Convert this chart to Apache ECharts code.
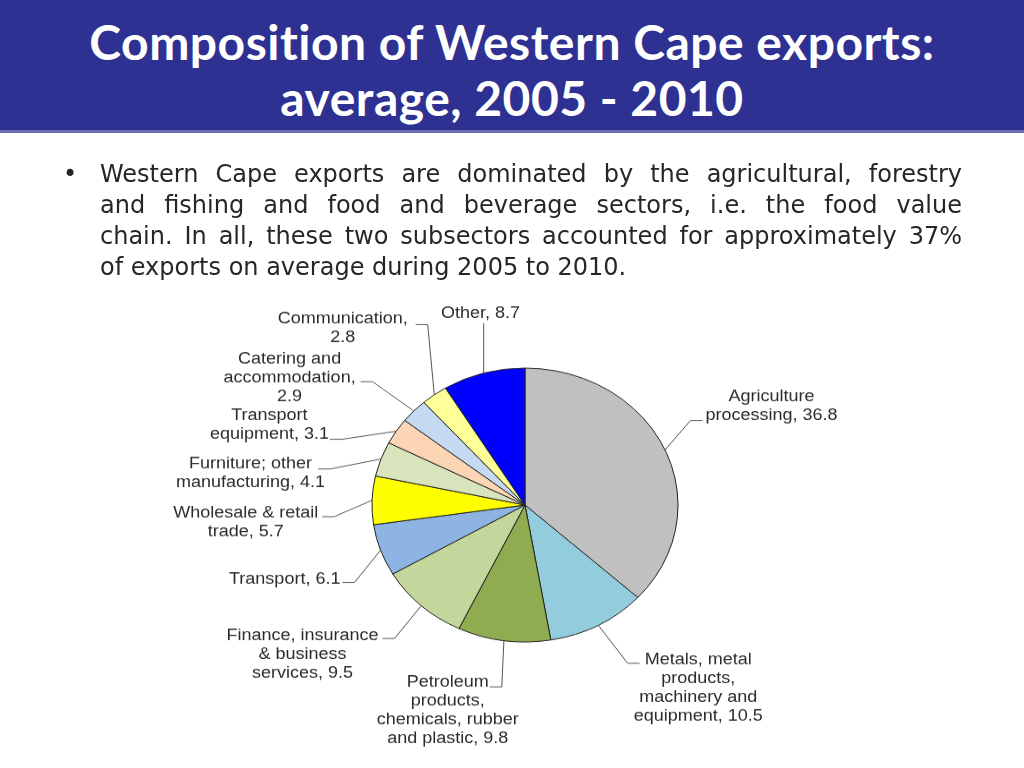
<!DOCTYPE html>
<html>
<head>
<meta charset="utf-8">
<script src="https://cdn.jsdelivr.net/npm/echarts@6/dist/echarts.min.js"></script>
<style>
  html, body { margin: 0; padding: 0; background: #fff; }
  body { width: 1024px; height: 768px; position: relative; overflow: hidden; }
  #header {
    position: absolute; left: 0; top: 0; width: 1024px; height: 133px;
    background: #2e3192; border-bottom: 3px solid #6a6db4;
    color: #fff; text-align: center;
    font-family: Lato, "DejaVu Sans", sans-serif; font-weight: bold;
    font-size: 48px; letter-spacing: 0.5px; line-height: 56px; padding-top: 14px; box-sizing: border-box;
  }
  #bullet {
    position: absolute; left: 100px; top: 159px; width: 862px;
    font-family: "DejaVu Sans", sans-serif; font-size: 24px; line-height: 31px; color: #262626;
  }
  #bullet .ln { text-align: justify; text-align-last: justify; white-space: nowrap; }
  #bullet .last { text-align: left; }
  #dot { position: absolute; left: 63px; top: 159px; font-size: 24px; line-height: 31px; color: #262626; font-family: "DejaVu Sans", sans-serif; }
  #chart { position: absolute; left: 0; top: 0; width: 1024px; height: 900px; }
</style>
</head>
<body>
<div id="chart"></div>
<div id="header">Composition of Western Cape exports:<br>average, 2005 - 2010</div>
<div id="dot">•</div>
<div id="bullet">
  <div class="ln">Western Cape exports are dominated by the agricultural, forestry</div>
  <div class="ln">and fishing and food and beverage sectors, i.e. the food value</div>
  <div class="ln">chain. In all, these two subsectors accounted for approximately 37%</div>
  <div class="last">of exports on average during 2005 to 2010.</div>
</div>
<script>
// sectors, clockwise from 12 o'clock
const sectors = [
  'Agriculture\nprocessing',
  'Metals, metal\nproducts,\nmachinery and\nequipment',
  'Petroleum\nproducts,\nchemicals, rubber\nand plastic',
  'Finance, insurance\n& business\nservices',
  'Transport',
  'Wholesale & retail\ntrade',
  'Furniture; other\nmanufacturing',
  'Transport\nequipment',
  'Catering and\naccommodation',
  'Communication',
  'Other'
];
const shares = [36.8, 10.5, 9.8, 9.5, 6.1, 5.7, 4.1, 3.1, 2.9, 2.8, 8.7];
const valueOnOwnLine = ['Catering and\naccommodation', 'Communication'];
const colors = ['#c0c0c0', '#93cddd', '#8fac50', '#c3d69b', '#8db4e2', '#ffff00',
  '#d8e4bc', '#fcd5b4', '#c5d9f1', '#ffff99', '#0000ff'];

// the source picture is squashed vertically
const SQUASH = 0.895;
const CX = 525, CY = 505;

// label nudges (screen px): move the text block, then where the leader ends
// relative to the block's inner edge / middle
const labelShift = [
  { dx: -4, dy: -33, ax: -3, ay: 14.5 },   // Agriculture
  { dx: 4, dy: 39, ax: 6, ay: -24.5 },     // Metals
  { dx: 36, dy: 20.5, ax: -29, ay: -24 },  // Petroleum
  { dx: 6, dy: 29, ax: 4, ay: -16 },       // Finance
  { dx: 0, dy: 12, ax: 2, ay: 3 },         // Transport
  { dx: -15, dy: -18, ax: 4, ay: -5.5 },   // Wholesale
  { dx: -5, dy: -30.5, ax: -7, ay: -4 },   // Furniture
  { dx: -6, dy: -42, ax: 1, ay: 14.5 },    // Transport equipment
  { dx: 0, dy: -43, ax: 5, ay: 4 },        // Catering
  { dx: 7, dy: -46, ax: 8, ay: -4 },       // Communication
  { dx: 22, dy: -34, above: true }         // Other
];
const LEAD = 12;

const el = document.getElementById('chart');
el.style.transform = 'scaleY(' + SQUASH + ')';
el.style.transformOrigin = '0 ' + CY + 'px';
const chart = echarts.init(el, null, { renderer: 'canvas' });

const option = {
  animation: false,
  color: colors,
  series: [{
    type: 'pie',
    center: [CX, CY],
    radius: 153,
    startAngle: 90,
    clockwise: true,
    avoidLabelOverlap: true,
    itemStyle: { borderColor: '#222', borderWidth: 1 },
    label: {
      show: true,
      formatter: function (p) {
        const sep = valueOnOwnLine.indexOf(p.name) >= 0 ? ',\n' : ', ';
        const text = p.name + sep + p.value;
        return text.split('\n').map(l => '{c|' + l + '}').join('\n');
      },
      rich: {
        c: { align: 'center', fontSize: 18, lineHeight: 21, color: '#2b2b2b', fontFamily: '"Liberation Sans", Arial, sans-serif' }
      }
    },
    labelLine: {
      show: true,
      length: 30,
      length2: 12,
      smooth: false,
      lineStyle: { color: '#555', width: 1 }
    },
    labelLayout: function (params) {
      const s = labelShift[params.dataIndex];
      const r = params.labelRect;
      const onLeft = r.x + r.width / 2 < CX;
      const edgeX = onLeft ? r.x + r.width : r.x;
      const nx = edgeX + s.dx;
      const ny = r.y + r.height / 2 + s.dy / SQUASH;
      const p0 = params.labelLinePoints[0];
      if (s.above) {
        return {
          x: nx, y: ny, align: 'center', verticalAlign: 'middle',
          labelLinePoints: [p0, [p0[0], ny + r.height / 2 + 2]]
        };
      }
      const ex = nx + s.ax;
      const ey = ny + s.ay / SQUASH;
      const p1 = [ex + (onLeft ? LEAD : -LEAD), ey];
      return { x: nx, y: ny, labelLinePoints: [p0, p1, [ex, ey]] };
    },
    emphasis: { disabled: true },
    data: sectors.map((s, i) => ({ name: s, value: shares[i] }))
  }]
};
chart.setOption(option);
</script>
</body>
</html>
